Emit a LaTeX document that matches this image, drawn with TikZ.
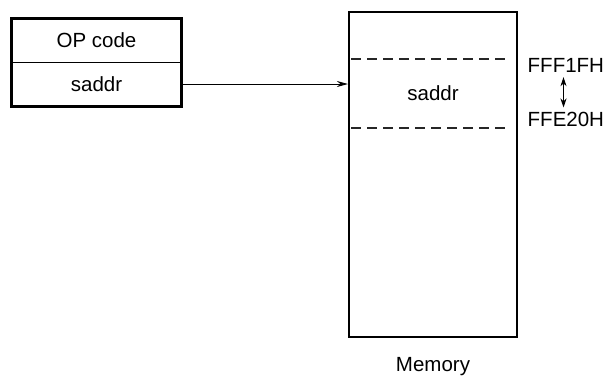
\documentclass[tikz,border=0pt]{standalone}
\usepackage{fontspec}
\setmainfont{Liberation Sans}
\usetikzlibrary{arrows.meta, positioning}

\begin{document}
\begin{tikzpicture}[
  x=1pt, y=-1pt,
  font=\fontsize{20.5}{24}\selectfont,
  field/.style={rectangle, draw, line width=1pt, minimum width=169pt, inner sep=0pt, align=center},
  box/.style={rectangle, draw, line width=2.2pt, inner sep=0pt},
  label/.style={inner sep=0pt},
  dashline/.style={line width=1.2pt, black!85, dash pattern=on 10pt off 6pt},
  arrow/.style={-{Stealth[length=11pt, width=6pt]}, line width=0.9pt},
  dblarrow/.style={{Stealth[length=9pt, width=6pt]}-{Stealth[length=9pt, width=6pt]}, line width=0.9pt}
]
  \useasboundingbox (0,0) rectangle (606,376);

  % instruction word
  \node[field, minimum height=43pt] (opcode) at (96.5,40.5) {OP code};
  \node[field, minimum height=44pt] (saddrfield) at (96.5,84) {saddr};
  \draw[line width=2.2pt] (opcode.north west) rectangle (saddrfield.south east);

  % memory
  \node[box, minimum width=168pt, minimum height=325pt] (memory) at (433,174.5) {};
  \node[label] (area) at (433,93) {saddr};
  \draw[dashline] (351,59) -- (509,59);
  \draw[dashline] (351,128) -- (509,128);
  \node[label, anchor=base west] (hi) at (527.5,72) {FFF1FH};
  \node[label, anchor=base west] (lo) at (527.5,126) {FFE20H};
  \node[label, anchor=base] (memname) at (433,371) {Memory};

  \draw[arrow] (saddrfield.east) -- (memory.west |- saddrfield.east);
  \draw[dblarrow] ([yshift=-5pt]hi.south -| 563.5,0) -- ([yshift=4pt]lo.north -| 563.5,0);
\end{tikzpicture}
\end{document}
